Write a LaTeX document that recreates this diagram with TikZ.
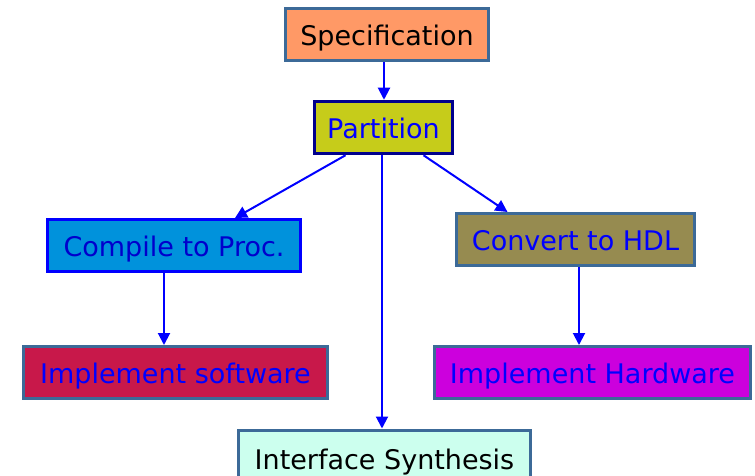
\documentclass[tikz,border=0pt]{standalone}
\usepackage{fontspec}
\setmainfont{DejaVu Sans}
\usetikzlibrary{arrows.meta}
\definecolor{frameblue}{HTML}{3C6A98}
\definecolor{specfill}{HTML}{FF9966}
\definecolor{partfill}{HTML}{C6CC1A}
\definecolor{partedge}{HTML}{00008C}
\definecolor{compfill}{HTML}{0092DC}
\definecolor{swfill}{HTML}{C8184A}
\definecolor{hdlfill}{HTML}{968B50}
\definecolor{hwfill}{HTML}{CC00DD}
\definecolor{iffill}{HTML}{CCFFEE}
\tikzset{
  box/.style={draw=frameblue, line width=3pt, inner sep=0pt, text height=24pt, text depth=2pt,
    font=\fontsize{27}{31}\selectfont},
  flow/.style={draw=blue, line width=2pt, -{Triangle[length=12pt,width=12pt]}}
}
\begin{document}
\begin{tikzpicture}[x=1pt,y=-1pt]
\useasboundingbox (0,0) rectangle (755,476);
\clip (0,0) rectangle (755,476);
\node[box, fill=specfill, minimum width=203pt, minimum height=52pt] (spec) at (387,35) {Specification};
\node[box, draw=partedge, line width=3.5pt, fill=partfill, text=blue, minimum width=138pt, minimum height=52pt] (part) at (383.5,127.5) {Partition};
\node[box, draw=blue, fill=compfill, text=blue!80!black, minimum width=253pt, minimum height=52pt] (comp) at (174,245.5) {Compile to Proc.};
\node[box, fill=swfill, text=blue, minimum width=304pt, minimum height=52pt] (sw) at (175.5,372.5) {Implement software};
\node[box, fill=hdlfill, text=blue, minimum width=238pt, minimum height=52pt] (hdl) at (575.5,239.5) {Convert to HDL};
\node[box, fill=hwfill, text=blue, minimum width=316pt, minimum height=52pt] (hw) at (592.5,372.5) {Implement Hardware};
\node[box, fill=iffill, minimum width=292pt, minimum height=60pt, anchor=north] (ifs) at (384.5,428.5) {};
\node[font=\fontsize{27}{31}\selectfont, text height=24pt, text depth=2pt] (ifstext) at (384.5,458) {Interface Synthesis};
\draw[flow] (spec.south -| 384,0) -- (part.north -| 384,0);
\draw[flow] ([xshift=-38pt]part.south) -- ([xshift=61pt]comp.north);
\draw[flow] ([xshift=40pt]part.south) -- ([xshift=-68pt]hdl.north);
\draw[flow] (part.south -| 382,0) -- (ifs.north -| 382,0);
\draw[flow] (comp.south -| 164,0) -- (sw.north -| 164,0);
\draw[flow] (hdl.south -| 579,0) -- (hw.north -| 579,0);
\end{tikzpicture}
\end{document}
